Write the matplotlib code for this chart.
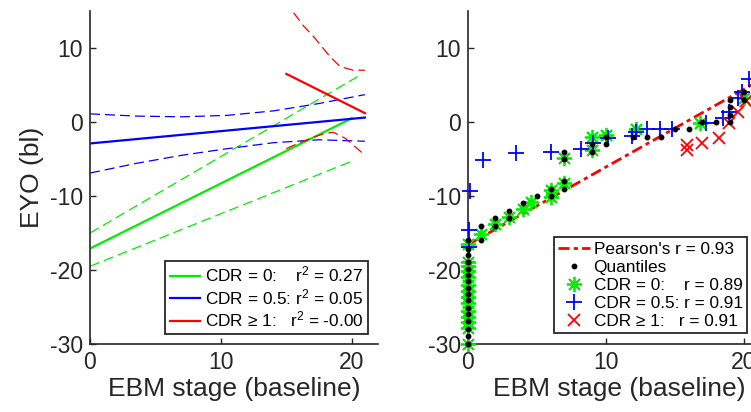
import matplotlib
matplotlib.use("Agg")
import matplotlib.pyplot as plt

plt.rcParams["font.family"] = ["Liberation Sans", "DejaVu Sans"]
plt.rcParams["mathtext.fontset"] = "custom"
plt.rcParams["mathtext.rm"] = "Liberation Sans"
plt.rcParams["mathtext.it"] = "Liberation Sans"
plt.rcParams["axes.unicode_minus"] = False

GREEN, BLUE, RED = "#00ee00", "#0000ff", "#ff0000"
TXT = "#262626"

# ---- left panel: regression fits with confidence bands ----
green_fit_x = [0, 20]
green_fit_y = [-17.1, 0.5]
green_hi_x = [0, 20.8]
green_hi_y = [-15.0, 6.5]
green_lo_x = [0, 20]
green_lo_y = [-19.5, -5.3]

blue_fit_x = [0, 21]
blue_fit_y = [-2.9, 0.6]
blue_hi_x = [0, 3.5, 7, 10.5, 14, 17.5, 21]
blue_hi_y = [1.1, 0.8, 0.7, 0.9, 1.5, 2.5, 3.7]
blue_lo_x = [0, 3.5, 7, 10.5, 14, 17.5, 21]
blue_lo_y = [-6.9, -5.6, -4.5, -3.6, -2.8, -2.4, -2.6]

red_fit_x = [15, 21]
red_fit_y = [6.5, 1.2]
red_hi_x = [15, 15.5, 16.3, 17.1, 18.35, 19.1, 20.1, 21]
red_hi_y = [17.0, 14.9, 13.0, 11.5, 8.8, 7.5, 7.0, 7.0]
red_lo_x = [15, 16, 17, 18, 18.6, 19.5, 20.3, 21]
red_lo_y = [-3.6, -2.8, -2.1, -1.5, -1.4, -2.2, -3.4, -4.5]

left_labels = ["CDR = 0:    r$^2$ = 0.27",
               "CDR = 0.5: r$^2$ = 0.05",
               "CDR \u2265 1:   r$^2$ = -0.00"]

# ---- right panel: quantiles and per-group points ----
pearson_x = [0, 22]
pearson_y = [-16.6, 6.5]

quant_x = [0] * 16 + [1, 1, 2, 2, 3, 3, 4, 5, 6, 6, 7, 7, 7, 7, 9, 9, 10, 10,
                      12, 13, 14, 15, 16, 17, 18, 19, 19, 19, 19, 20, 20]
quant_y = [-16.0, -17.1, -18.0, -18.9, -19.8, -20.7, -21.5, -22.4, -23.3, -24.1,
           -25.1, -26.0, -26.9, -28.0, -28.9, -30.0,
           -14, -16, -13, -14, -12, -13, -11, -10, -9, -10, -4, -5, -8, -9,
           -3, -4, -2, -3, -2, -2, -2, -1, -1, 0, 0, 0, 1, 2, 3, 3, 4]

cdr0_x = [0] * 14 + [1, 2, 3, 4, 4.6, 6, 6, 7, 7, 9, 9, 10, 12.2, 16.8, 20]
cdr0_y = [-16.5, -18.9, -19.5, -20.2, -21.0, -22.0, -22.8, -23.7, -24.4, -25.6,
          -26.3, -27.0, -27.8, -30.0,
          -15.1, -13.8, -12.9, -11.7, -10.8, -9.2, -10.1, -4.8, -8.3,
          -2.0, -3.8, -1.8, -0.9, -0.1, 3.2]

cdr05_x = [0.2, 0.1, 0.1, 1.1, 3.5, 6.0, 8.2, 9.1, 10.2, 11.9, 12.2, 13.0, 13.9,
           14.8, 17.3, 18.5, 18.9, 19.6, 19.9, 20.4]
cdr05_y = [-9.3, -14.6, -16.9, -5.1, -4.2, -4.0, -3.6, -2.9, -2.1, -1.9, -1.4,
           -1.0, -1.0, -1.0, -0.1, 0.6, 1.4, 3.2, 4.0, 5.8]

cdr1_x = [15.9, 15.9, 17.0, 18.2, 18.9, 19.6, 20.2]
cdr1_y = [-3.1, -3.8, -2.9, -2.1, -0.2, 1.3, 2.9]

right_labels = ["Pearson's r = 0.93", "Quantiles",
                "CDR = 0:    r = 0.89", "CDR = 0.5: r = 0.91",
                "CDR \u2265 1:   r = 0.91"]

W, H = 751, 412
fig = plt.figure(figsize=(W / 100, H / 100), dpi=100)
ax1 = fig.add_axes([90 / W, 68 / H, 288 / W, 333 / H])
ax2 = fig.add_axes([467.7 / W, 68 / H, 303.6 / W, 333 / H])


def style(ax):
    ax.set_xlim(0, 22)
    ax.set_ylim(-30, 15)
    ax.set_xticks([0, 10, 20])
    ax.set_yticks([-30, -20, -10, 0, 10])
    for s in ("top", "right"):
        ax.spines[s].set_visible(False)
    for s in ("left", "bottom"):
        ax.spines[s].set_color(TXT)
        ax.spines[s].set_linewidth(1.2)
    ax.tick_params(direction="in", length=4, width=1, colors=TXT,
                   labelsize=16.5, pad=5)
    ax.set_xlabel("EBM stage (baseline)", fontsize=19, color=TXT, labelpad=2)


style(ax1)
style(ax2)
ax1.set_ylabel("EYO (bl)", fontsize=19, color=TXT, labelpad=4)

# left panel
dash = (0, (8, 4))
h1, = ax1.plot(green_fit_x, green_fit_y, color=GREEN, lw=1.6)
ax1.plot(green_hi_x, green_hi_y, color=GREEN, lw=0.9, ls=dash)
ax1.plot(green_lo_x, green_lo_y, color=GREEN, lw=0.9, ls=dash)
h2, = ax1.plot(blue_fit_x, blue_fit_y, color=BLUE, lw=1.6)
ax1.plot(blue_hi_x, blue_hi_y, color=BLUE, lw=0.9, ls=dash)
ax1.plot(blue_lo_x, blue_lo_y, color=BLUE, lw=0.9, ls=dash)
h3, = ax1.plot(red_fit_x, red_fit_y, color=RED, lw=1.6)
ax1.plot(red_hi_x, red_hi_y, color=RED, lw=0.9, ls=dash)
ax1.plot(red_lo_x, red_lo_y, color=RED, lw=0.9, ls=dash)

leg1 = ax1.legend([h1, h2, h3], left_labels, loc="lower right",
                  bbox_to_anchor=(0.965, 0.03), fontsize=12.4, fancybox=False,
                  framealpha=1, edgecolor=TXT, handlelength=1.75,
                  handletextpad=0.3, labelspacing=0.15, borderpad=0.25,
                  borderaxespad=0)
leg1.get_frame().set_linewidth(1.3)

# right panel
p0, = ax2.plot(pearson_x, pearson_y, color=RED, lw=2, ls=(0, (4, 1.5, 1.5, 1.5)),
               zorder=2)
p1, = ax2.plot(quant_x, quant_y, ls="none", marker="o", ms=3.2, color="black",
               zorder=4, clip_on=False)
p2, = ax2.plot(cdr0_x, cdr0_y, ls="none", marker=(8, 2, 0), ms=11,
               mec=GREEN, mew=1.3, zorder=3, clip_on=False)
p3, = ax2.plot(cdr05_x, cdr05_y, ls="none", marker="+", ms=11,
               mec=BLUE, mew=1.3, zorder=3, clip_on=False)
p4, = ax2.plot(cdr1_x, cdr1_y, ls="none", marker="x", ms=8,
               mec=RED, mew=1.3, zorder=3, clip_on=False)

leg2 = ax2.legend([p0, p1, p2, p3, p4], right_labels, loc="lower right",
                  bbox_to_anchor=(0.92, 0.033), fontsize=12.4, fancybox=False,
                  framealpha=1, edgecolor=TXT, handlelength=1.86,
                  handletextpad=0.2, labelspacing=0.17, borderpad=0.25,
                  borderaxespad=0)
leg2.get_frame().set_linewidth(1.3)
leg2.set_zorder(5)

fig.savefig("out.png", dpi=100)
